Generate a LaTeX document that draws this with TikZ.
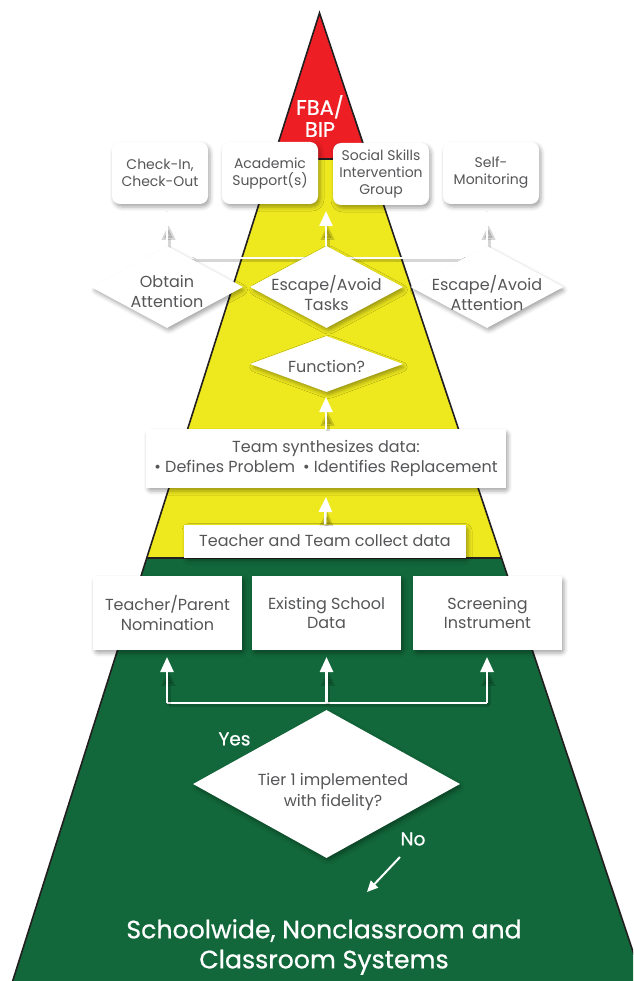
\documentclass[tikz,border=0pt]{standalone}
\usepackage{fontspec}
\setmainfont{Poppins}
\newfontfamily\wfont{Poppins}[FakeBold=0.7]
\usetikzlibrary{shapes.geometric,arrows.meta,shadows.blur}
\definecolor{pred}{RGB}{237,30,36}
\definecolor{pyel}{RGB}{238,232,30}
\definecolor{pgrn}{RGB}{18,104,58}
\definecolor{outl}{RGB}{35,31,32}
\definecolor{tgray}{RGB}{85,86,88}
\begin{document}
\begin{tikzpicture}[x=1pt,y=-1pt,
  shad/.style={blur shadow={shadow xshift=2pt,shadow yshift=-3pt,shadow blur radius=4pt,shadow opacity=35,shadow blur extra rounding=3pt}},
  bx/.style={fill=white,shad,inner sep=0pt,text=tgray,align=center,font=\fontsize{16}{19.5}\selectfont},
  rbx/.style={bx,rounded corners=8pt,minimum width=96pt,minimum height=62pt,font=\fontsize{14}{17}\selectfont},
  dia/.style={fill=white,shad,diamond,inner sep=0pt},
  txt/.style={text=tgray,align=center,font=\fontsize{16}{20}\selectfont},
  wtxt/.style={text=white,align=center},
  lshad/.style={preaction={draw=black,opacity=0.16,line width=4pt,transform canvas={shift={(1.5pt,-1.8pt)}}}},
  wl/.style={white,line width=2.5pt,lshad},
  ar/.style={white,line width=2.5pt,-{Triangle[length=15pt,width=13pt]},
     preaction={draw=black,opacity=0.16,line width=4pt,shorten >=12pt,transform canvas={shift={(1.5pt,-1.8pt)}}}},
]
\useasboundingbox (0,0) rectangle (633,981);
% pyramid
\begin{scope}
\clip (0,0) rectangle (633,981);
\coordinate (apex) at (319.5,13);
\coordinate (l1) at (273.2,159);
\coordinate (r1) at (368.3,159);
\coordinate (l2) at (146.7,558);
\coordinate (r2) at (501.5,558);
\coordinate (lb) at (9.8,990);
\coordinate (rb) at (645.8,990);
\fill[pred] (apex) -- (l1) -- (r1) -- cycle;
\fill[pyel] (l1) -- (l2) -- (r2) -- (r1) -- cycle;
\fill[pgrn] (l2) -- (lb) -- (rb) -- (r2) -- cycle;
\draw[outl,line width=1.6pt] (l1) -- (r1);
\draw[outl,line width=1.6pt] (l2) -- (r2);
\draw[outl,line width=1.6pt,line join=miter,miter limit=20] (lb) -- (apex) -- (rb);
\end{scope}
% white connectors (top)
\coordinate (jl) at (167,258);
\coordinate (jm) at (326,258);
\coordinate (jr) at (487,258);
\draw[wl] (jl) -- (jr);
\coordinate (tl) at (167,211);
\coordinate (tm) at (326,211);
\coordinate (tr) at (487,211);
\draw[ar] (jl) -- (tl);
\draw[ar] (jm) -- (tm);
\draw[ar] (jr) -- (tr);
% top boxes
\node[rbx] (b1) at (160,173) {Check-In,\\Check-Out};
\node[rbx] (b2) at (270,173) {Academic\\Support(s)};
\node[rbx] (b3) at (381,174) {Social Skills\\Intervention\\Group};
\node[rbx] (b4) at (491,173) {Self-\\Monitoring};
\node[wtxt,font=\wfont\fontsize{21}{22}\selectfont] (fba) at (320,116) {FBA/\\BIP};
% diamonds
\node[dia,minimum width=152pt,minimum height=82pt] (oa) at (167,287) {};
\node[dia,minimum width=153pt,minimum height=82pt] (et) at (326.5,287) {};
\node[dia,minimum width=153pt,minimum height=82pt] (ea) at (487,287) {};
\node[dia,minimum width=153pt,minimum height=56pt] (fn) at (326.5,364) {};
\node[txt] (oat) at (167,291) {Obtain\\Attention};
\node[txt] (ett) at (326.5,293) {Escape/Avoid\\Tasks};
\node[txt] (eat) at (487,293) {Escape/Avoid\\Attention};
\node[txt] (fnt) at (326.5,366) {Function?};
% middle boxes
\node[bx,minimum width=360pt,minimum height=59pt] (ts) at (326,458.5) {Team synthesizes data:\\\textbullet{} Defines Problem\enspace\textbullet{} Identifies Replacement};
\node[bx,minimum width=282pt,minimum height=33pt] (tc) at (325,541) {Teacher and Team collect data};
\coordinate (fnb) at (326,397);
\coordinate (tsb) at (326,497);
\draw[ar] (ts.north) -- (fnb);
\draw[ar] (tc.north) -- (tsb);
% source boxes
\coordinate (hl) at (167,703);
\coordinate (hm) at (326.5,703);
\coordinate (hr) at (487,703);
\draw[wl] (hl) -- (hr);
\draw[ar] (hl) -- (167,657);
\draw[ar] (hm) -- (326.5,657);
\draw[ar] (hr) -- (487,657);
\node[bx,minimum width=149pt,minimum height=74pt] (sa) at (167.5,613) {Teacher/Parent\\Nomination};
\node[bx,minimum width=149pt,minimum height=74pt] (sb) at (326.5,613) {Existing School\\Data};
\node[bx,minimum width=149pt,minimum height=74pt] (sc) at (487.5,613) {Screening\\Instrument};
% tier diamond
\node[dia,minimum width=267pt,minimum height=148pt] (tier) at (326.5,784) {};
\node[txt,font=\fontsize{16}{20.5}\selectfont] (tiert) at (333,792) {Tier 1 implemented\\with fidelity?};
\node[wtxt,font=\wfont\fontsize{18.5}{20}\selectfont] (yes) at (234.5,739) {Yes};
\node[wtxt,font=\wfont\fontsize{18.5}{20}\selectfont] (no) at (413,839) {No};
\coordinate (nos) at (400,857);
\coordinate (noe) at (367,892);
\draw[white,line width=2pt,-{Triangle[length=11pt,width=10pt]}] (nos) -- (noe);
\node[wtxt,font=\wfont\fontsize{25.2}{30}\selectfont] (base) at (324,947) {Schoolwide, Nonclassroom and\\Classroom Systems};
\end{tikzpicture}
\end{document}
